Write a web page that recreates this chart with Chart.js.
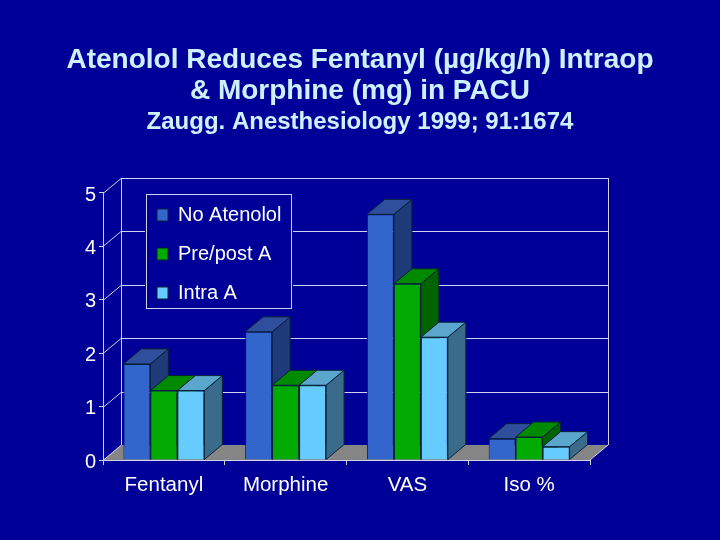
<!DOCTYPE html>
<html>
<head>
<meta charset="utf-8">
<title>Atenolol</title>
<script src="https://cdn.jsdelivr.net/npm/chart.js@4"></script>
<style>
    html, body { margin: 0; padding: 0; background: #000099; }
    canvas { display: block; }
</style>
</head>
<body>
<canvas id="chart" width="720" height="540"></canvas>
<script>
const categories = ['Fentanyl', 'Morphine', 'VAS', 'Iso %'];
const noAtenolol = [1.8, 2.4, 4.6, 0.4];
const prePost = [1.3, 1.4, 3.3, 0.43];
const intraA = [1.3, 1.4, 2.3, 0.25];

const titleLines = ['Atenolol Reduces Fentanyl (µg/kg/h) Intraop', '& Morphine (mg) in PACU'];
const subtitleLine = 'Zaugg. Anesthesiology 1999; 91:1674';

const BG = '#000099';
const LINE = '#d0d0f0';
const TEXT = '#ffffff';
const DEPTH_X = 18;
const DEPTH_Y = 15;

// top and side shades of each series
const shades = [
    { top: '#2f4f9c', side: '#1f3a78' },
    { top: '#008a00', side: '#006400' },
    { top: '#5aa6cc', side: '#3a6b8a' }
];

function poly(ctx, pts, fill, stroke) {
    ctx.beginPath();
    pts.forEach((p, i) => i ? ctx.lineTo(p[0], p[1]) : ctx.moveTo(p[0], p[1]));
    ctx.closePath();
    ctx.fillStyle = fill;
    ctx.fill();
    if (stroke) {
        ctx.strokeStyle = stroke;
        ctx.lineWidth = 1;
        ctx.stroke();
    }
}

// background, floor and the back walls of the 3d box
const wallsPlugin = {
    id: 'walls',
    beforeDraw(chart) {
        const { ctx, chartArea: a, scales } = chart;
        ctx.save();
        ctx.fillStyle = BG;
        ctx.fillRect(0, 0, chart.width, chart.height);

        poly(ctx, [[a.left, a.bottom], [a.right, a.bottom],
            [a.right + DEPTH_X, a.bottom - DEPTH_Y], [a.left + DEPTH_X, a.bottom - DEPTH_Y]], '#858585');

        ctx.strokeStyle = LINE;
        ctx.lineWidth = 1;
        ctx.beginPath();
        scales.y.ticks.forEach(t => {
            const y = Math.round(scales.y.getPixelForValue(t.value)) + 0.5;
            ctx.moveTo(a.left, y);
            ctx.lineTo(a.left + DEPTH_X, y - DEPTH_Y);
            if (t.value > 0) ctx.lineTo(a.right + DEPTH_X, y - DEPTH_Y);
        });
        ctx.moveTo(a.left + DEPTH_X + 0.5, a.top - DEPTH_Y);
        ctx.lineTo(a.left + DEPTH_X + 0.5, a.bottom - DEPTH_Y);
        ctx.moveTo(a.right + DEPTH_X + 0.5, a.top - DEPTH_Y);
        ctx.lineTo(a.right + DEPTH_X + 0.5, a.bottom - DEPTH_Y);
        ctx.moveTo(a.right, a.bottom);
        ctx.lineTo(a.right + DEPTH_X, a.bottom - DEPTH_Y);
        ctx.stroke();

        // legend frame, hides the wall lines behind it
        ctx.fillStyle = BG;
        ctx.fillRect(145, 193, 148, 117);
        ctx.strokeRect(146.5, 194.5, 145, 114);
        ctx.restore();
    },
    afterLayout(chart) {
        // legend sits at a fixed place over the wall
        const lg = chart.legend;
        const pad = lg.options.labels.padding;
        lg.left = 157 - pad;
        lg.top = 205 - pad;
        lg.right = 291;
        lg.bottom = 360;
    }
};

// extrude each bar, drawn under the front faces that chart.js paints
const extrudePlugin = {
    id: 'extrude',
    beforeDatasetsDraw(chart) {
        const { ctx } = chart;
        ctx.save();
        chart.data.datasets.forEach((ds, i) => {
            chart.getDatasetMeta(i).data.forEach(bar => {
                const l = bar.x - bar.width / 2;
                const r = bar.x + bar.width / 2;
                const t = bar.y;
                const b = bar.base;
                poly(ctx, [[r, t], [r + DEPTH_X, t - DEPTH_Y], [r + DEPTH_X, b - DEPTH_Y], [r, b]], shades[i].side, '#06203a');
                poly(ctx, [[l, t], [r, t], [r + DEPTH_X, t - DEPTH_Y], [l + DEPTH_X, t - DEPTH_Y]], shades[i].top, '#06203a');
            });
        });
        ctx.restore();
    }
};

const ctx = document.getElementById('chart').getContext('2d');
new Chart(ctx, {
    type: 'bar',
    data: {
        labels: categories,
        datasets: [
            { label: 'No Atenolol', data: noAtenolol, backgroundColor: '#3366cc' },
            { label: 'Pre/post A', data: prePost, backgroundColor: '#00aa00' },
            { label: 'Intra A', data: intraA, backgroundColor: '#66ccff' }
        ]
    },
    plugins: [wallsPlugin, extrudePlugin],
    options: {
        responsive: false,
        animation: false,
        datasets: {
            bar: {
                categoryPercentage: 0.665,
                barPercentage: 1,
                borderWidth: 1,
                borderColor: '#06203a'
            }
        },
        layout: { padding: 0 },
        scales: {
            x: {
                grid: { drawOnChartArea: false, color: LINE, tickLength: 5 },
                border: { color: LINE },
                ticks: { color: TEXT, font: { family: 'Liberation Sans', size: 20.5 }, padding: 8, maxRotation: 0 },
                afterFit(s) { s.height = 80; }
            },
            y: {
                min: 0,
                max: 5,
                grid: { drawOnChartArea: false, color: LINE, tickLength: 4 },
                border: { color: LINE },
                ticks: { stepSize: 1, color: TEXT, font: { family: 'Liberation Sans', size: 20 }, padding: 3, labelOffset: 2 },
                afterFit(s) { s.width = 103; }
            },
            // empty axis, just holds the right margin without moving the titles
            margin: {
                position: 'right',
                grid: { display: false },
                border: { display: false },
                ticks: { display: false },
                afterFit(s) { s.width = 130; }
            }
        },
        plugins: {
            title: {
                display: true,
                text: titleLines,
                color: '#ccf2ff',
                font: { family: 'Liberation Sans', size: 28, weight: 'bold', lineHeight: 1.107 },
                padding: { top: 45, bottom: 0 }
            },
            subtitle: {
                display: true,
                text: subtitleLine,
                color: '#ccf2ff',
                font: { family: 'Liberation Sans', size: 24, weight: 'bold', lineHeight: 1.25 },
                padding: { top: 0, bottom: 56 }
            },
            legend: {
                position: 'chartArea',
                align: 'start',
                labels: {
                    color: TEXT,
                    boxWidth: 11,
                    boxHeight: 12,
                    padding: 19,
                    font: { family: 'Liberation Sans', size: 20 }
                }
            },
            tooltip: { enabled: false }
        }
    }
});
</script>
</body>
</html>
